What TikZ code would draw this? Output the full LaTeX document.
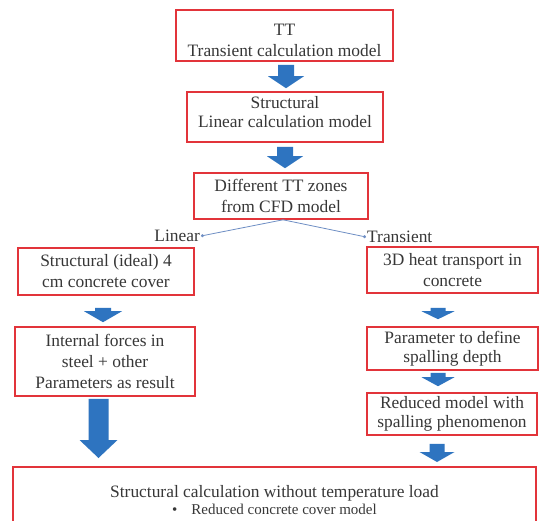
\documentclass[tikz,border=0pt]{standalone}
\usepackage{fontspec}
\setmainfont{Liberation Serif}
\usetikzlibrary{calc,arrows.meta}
\definecolor{boxred}{RGB}{226,52,58}
\definecolor{flowblue}{RGB}{46,116,192}
\definecolor{linkblue}{RGB}{110,142,196}
\definecolor{ink}{RGB}{55,55,55}
\tikzset{
  stepbox/.style={draw=boxred, line width=1.6pt, fill=white, align=center,
    text=ink, inner sep=0pt, font=\fontsize{17.4}{21}\selectfont},
  link/.style={draw=linkblue, line width=0.8pt, -{Circle[length=3pt,color=linkblue]}},
  lbl/.style={text=ink, inner sep=1pt, font=\fontsize{17.4}{21}\selectfont}
}
% downward block arrow: #1 start, #2 tip, #3 stem width, #4 head width, #5 head length
\newcommand\flowarrow[5]{%
  \fill[flowblue] let \p1=#1, \p2=#2 in
    (\x1-#3/2,\y1) -- (\x1+#3/2,\y1) -- (\x1+#3/2,\y2+#5) -- (\x1+#4/2,\y2+#5)
    -- (\x1,\y2) -- (\x1-#4/2,\y2+#5) -- (\x1-#3/2,\y2+#5) -- cycle;}
\begin{document}
\begin{tikzpicture}[x=1pt,y=-1pt]
\clip (0,0) rectangle (540,521);
\fill[white] (0,0) rectangle (540,521);

% main column
\node[stepbox, minimum width=217pt, minimum height=51pt] (b1) at (284.5,35.5)
  {\rule{0pt}{21pt}TT\\Transient calculation model};
\node[stepbox, minimum width=196pt, minimum height=50pt,
  font=\fontsize{17.4}{19}\selectfont] (b2) at (285,117)
  {Structural\\ Linear calculation model\rule[-10pt]{0pt}{10pt}};
\node[stepbox, minimum width=174pt, minimum height=46pt] (b3) at (281,196)
  {Different TT zones\\from CFD model};

% linear branch
\node[stepbox, minimum width=176pt, minimum height=47pt] (b4) at (106,271.5)
  {Structural (ideal) 4\\cm concrete cover};
\node[stepbox, minimum width=180pt, minimum height=69pt] (b5) at (105,361.5)
  {Internal forces in\\steel + other\\Parameters as result};

% transient branch
\node[stepbox, minimum width=171pt, minimum height=46pt] (b6) at (452.5,270)
  {3D heat transport in\\concrete};
\node[stepbox, minimum width=171pt, minimum height=43pt,
  font=\fontsize{17.4}{19}\selectfont] (b7) at (452.5,348.5)
  {Parameter to define\\spalling depth};
\node[stepbox, minimum width=170pt, minimum height=42pt,
  font=\fontsize{17.4}{19}\selectfont] (b8) at (452,414)
  {Reduced model with\\spalling phenomenon};

% final calculation
\node[stepbox, minimum width=523pt, minimum height=66pt, anchor=north] (b9) at (274.5,466)
  {Structural calculation without temperature load\\[-4pt]
   {\fontsize{15}{17}\selectfont\textbullet\hspace{14pt}Reduced concrete cover model}};

% branch labels
\node[lbl, anchor=east] (lin) at (201,236) {Linear};
\node[lbl, anchor=west] (tra) at (366,237) {Transient};
\draw[link] ([xshift=2pt]b3.south) -- (lin.east);
\draw[link] ([xshift=2pt]b3.south) -- (tra.west);

% block arrows
\flowarrow{([xshift=1.5pt,yshift=-3pt]b1.south)}{([xshift=1pt,yshift=3pt]b2.north)}{16pt}{36pt}{12pt}
\flowarrow{([yshift=-4pt]b2.south)}{([xshift=4pt,yshift=4pt]b3.north)}{16pt}{36pt}{12pt}
\flowarrow{([xshift=-3pt,yshift=-12pt]b4.south)}{([xshift=-2pt,yshift=4pt]b5.north)}{16pt}{38pt}{11pt}
\flowarrow{([xshift=-6.5pt,yshift=-2pt]b5.south)}{([xshift=-176pt,yshift=8pt]b9.north)}{20pt}{38pt}{18pt}
\flowarrow{([xshift=-14.5pt,yshift=-14pt]b6.south)}{([xshift=-14.5pt,yshift=7pt]b7.north)}{15pt}{33pt}{8pt}
\flowarrow{([xshift=-14.5pt,yshift=-2pt]b7.south)}{([xshift=-14pt,yshift=6pt]b8.north)}{15pt}{33pt}{9pt}
\flowarrow{([xshift=-15pt,yshift=-8pt]b8.south)}{([xshift=162.5pt,yshift=4pt]b9.north)}{15pt}{35pt}{10pt}
\end{tikzpicture}
\end{document}
